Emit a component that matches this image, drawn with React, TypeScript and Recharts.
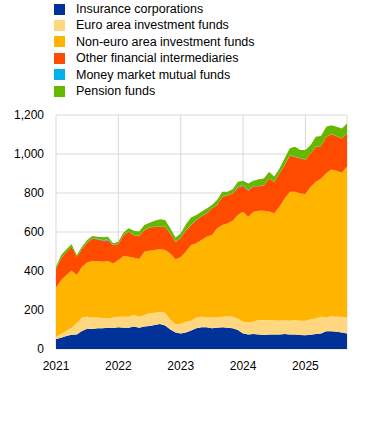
import React from "react";
import { AreaChart, Area, XAxis, YAxis, CartesianGrid } from "recharts";

// monthly observations, Jan 2021 - Sep 2025 (EUR billions)
const months = [
  "2021-01", "2021-02", "2021-03", "2021-04", "2021-05", "2021-06", "2021-07", "2021-08", "2021-09", "2021-10", "2021-11", "2021-12",
  "2022-01", "2022-02", "2022-03", "2022-04", "2022-05", "2022-06", "2022-07", "2022-08", "2022-09", "2022-10", "2022-11", "2022-12",
  "2023-01", "2023-02", "2023-03", "2023-04", "2023-05", "2023-06", "2023-07", "2023-08", "2023-09", "2023-10", "2023-11", "2023-12",
  "2024-01", "2024-02", "2024-03", "2024-04", "2024-05", "2024-06", "2024-07", "2024-08", "2024-09", "2024-10", "2024-11", "2024-12",
  "2025-01", "2025-02", "2025-03", "2025-04", "2025-05", "2025-06", "2025-07", "2025-08", "2025-09",
];

const insurance = [
  51, 58, 67, 73, 75, 92, 104, 103, 106, 106, 109, 108,
  111, 109, 109, 115, 109, 115, 118, 123, 128, 121, 100, 84,
  80, 85, 95, 106, 111, 111, 106, 109, 111, 109, 106, 97,
  80, 75, 77, 75, 72, 75, 75, 75, 77, 75, 75, 72,
  70, 73, 77, 80, 91, 91, 89, 84, 80,
];
const euroFunds = [
  12, 19, 27, 36, 57, 70, 62, 59, 56, 53, 48, 54,
  55, 57, 57, 59, 57, 59, 65, 63, 63, 65, 50, 44,
  50, 55, 50, 56, 55, 51, 55, 52, 55, 60, 60, 60,
  60, 62, 63, 74, 77, 72, 74, 70, 72, 70, 74, 73,
  75, 79, 80, 86, 71, 78, 77, 82, 82,
];
const nonEuroFunds = [
  253, 277, 285, 293, 247, 260, 277, 289, 289, 289, 294, 277,
  290, 311, 307, 294, 295, 325, 321, 322, 322, 322, 340, 332,
  340, 360, 388, 380, 393, 414, 423, 458, 470, 475, 492, 530,
  564, 541, 564, 560, 560, 558, 547, 585, 623, 662, 658, 653,
  650, 680, 701, 709, 739, 752, 748, 738, 773,
];
const otherFinancial = [
  94, 111, 118, 123, 94, 89, 101, 115, 112, 107, 107, 93,
  83, 106, 128, 115, 117, 110, 119, 118, 113, 118, 102, 89,
  99, 109, 102, 118, 122, 119, 136, 118, 144, 145, 139, 141,
  133, 133, 131, 126, 131, 169, 161, 170, 170, 185, 178, 179,
  176, 170, 178, 165, 187, 180, 177, 175, 170,
];
const moneyMarket = [
  0, 0, 0, 0, 0, 1, 1, 1, 2, 4, 4, 1,
  1, 1, 1, 1, 1, 1, 1, 1, 1, 1, 1, 1,
  1, 1, 1, 1, 1, 1, 1, 1, 1, 1, 1, 4,
  4, 4, 1, 1, 1, 1, 1, 1, 1, 3, 1, 1,
  1, 1, 1, 1, 1, 1, 1, 1, 1,
];
const pensionFunds = [
  12, 17, 14, 12, 9, 13, 14, 12, 11, 14, 14, 9,
  10, 14, 17, 23, 23, 26, 24, 31, 38, 34, 26, 22,
  22, 30, 39, 26, 22, 25, 17, 26, 26, 17, 21, 26,
  22, 34, 27, 34, 34, 34, 26, 25, 35, 34, 51, 42,
  48, 43, 52, 51, 51, 46, 48, 51, 51,
];

const xTicks = ["2021-01", "2022-01", "2023-01", "2024-01", "2025-01"];
const yTicks = [0, 200, 400, 600, 800, 1000, 1200];

const seriesList = [
  { key: "insurance", name: "Insurance corporations", color: "#003299" },
  { key: "euroFunds", name: "Euro area investment funds", color: "#fed780" },
  { key: "nonEuroFunds", name: "Non-euro area investment funds", color: "#ffb400" },
  { key: "otherFinancial", name: "Other financial intermediaries", color: "#ff4b00" },
  { key: "moneyMarket", name: "Money market mutual funds", color: "#00b1ea" },
  { key: "pensionFunds", name: "Pension funds", color: "#65b800" },
];

const data = months.map((month, i) => ({
  month,
  insurance: insurance[i],
  euroFunds: euroFunds[i],
  nonEuroFunds: nonEuroFunds[i],
  otherFinancial: otherFinancial[i],
  moneyMarket: moneyMarket[i],
  pensionFunds: pensionFunds[i],
}));

const font = "Arial, 'Liberation Sans', sans-serif";

const App: React.FC = () => {
  return (
    <div
      style={{
        position: "absolute",
        left: 0,
        top: 0,
        width: 377,
        height: 423,
        background: "#fff",
        fontFamily: font,
      }}
    >
      {/* Legend */}
      {seriesList.map((s, i) => (
        <div
          key={s.key}
          style={{
            position: "absolute",
            left: 54,
            top: 9 + i * 16.4 - 8,
            height: 16,
            display: "flex",
            alignItems: "center",
            fontSize: 12.5,
            color: "#000",
            whiteSpace: "nowrap",
          }}
        >
          <span
            style={{
              display: "inline-block",
              width: 11,
              height: 11,
              background: s.color,
              marginRight: 11,
            }}
          />
          {s.name}
        </div>
      ))}

      {/* Chart */}
      <div style={{ position: "absolute", left: 0, top: 0 }}>
        <AreaChart
          width={377}
          height={423}
          data={data}
          margin={{ top: 115, right: 30, bottom: 54, left: 0 }}
        >
          <CartesianGrid stroke="#d9d9d9" />
          <XAxis
            dataKey="month"
            ticks={xTicks}
            interval={0}
            tickFormatter={(v: string) => v.slice(0, 4)}
            axisLine={false}
            tickLine={false}
            tickMargin={6}
            height={20}
            tick={{ fill: "#000", fontSize: 12, fontFamily: font }}
          />
          <YAxis
            width={56}
            domain={[0, 1200]}
            ticks={yTicks}
            interval={0}
            tickFormatter={(v: number) => v.toLocaleString("en-US")}
            axisLine={false}
            tickLine={false}
            tickMargin={6}
            tick={{ fill: "#000", fontSize: 12, fontFamily: font }}
          />
          {seriesList.map((s) => (
            <Area
              key={s.key}
              type="linear"
              dataKey={s.key}
              name={s.name}
              stackId="1"
              fill={s.color}
              fillOpacity={1}
              stroke="none"
              isAnimationActive={false}
            />
          ))}
        </AreaChart>
      </div>
    </div>
  );
};

export default App;
